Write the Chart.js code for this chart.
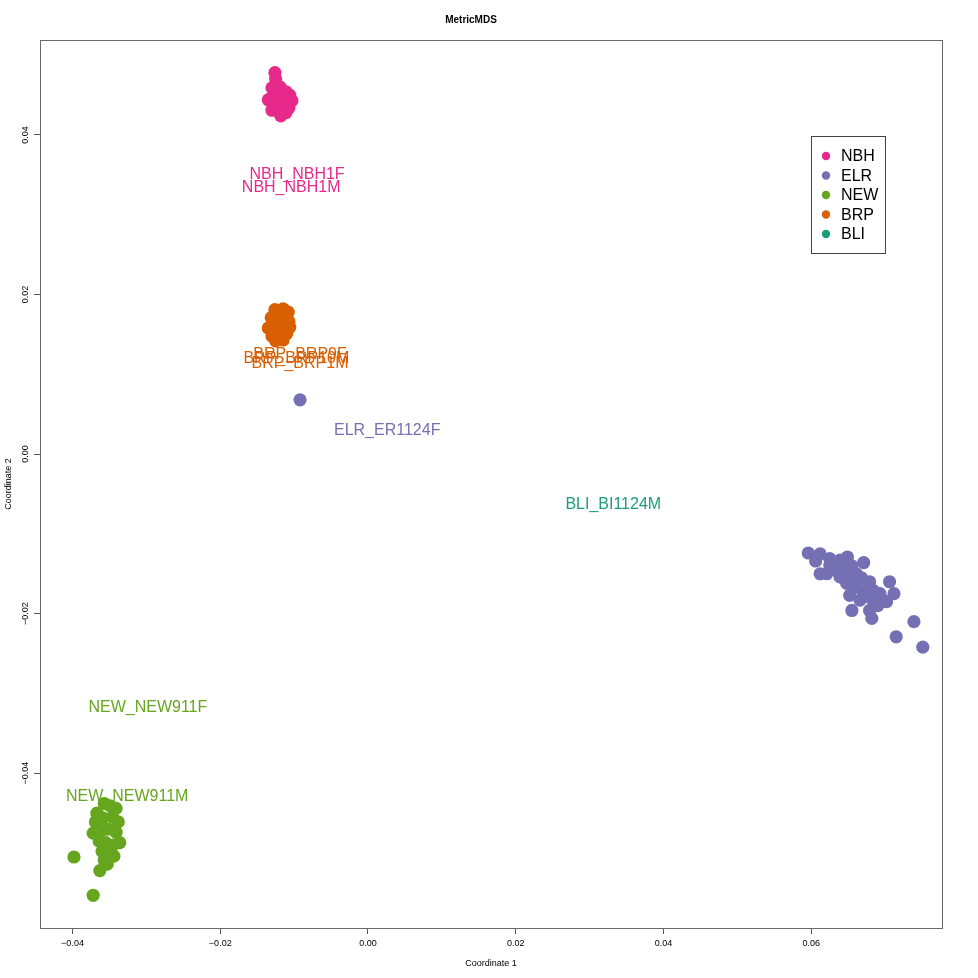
<!DOCTYPE html>
<html>
<head>
<meta charset="utf-8">
<script src="https://cdn.jsdelivr.net/npm/chart.js@4/dist/chart.umd.min.js"></script>
<style>
html,body{margin:0;padding:0;background:#fff;}
#wrap{width:978px;height:978px;}
</style>
</head>
<body>
<div id="wrap"><canvas id="c" width="978" height="978"></canvas></div>
<script>
// ---- data ----
const groups = ["NBH", "ELR", "NEW", "BRP", "BLI"];
const groupColors = ["#E7298A", "#7570B3", "#66A61E", "#D95F02", "#1B9E77"];

const nbhX = [-0.0126,-0.0125,-0.0130,-0.0119,-0.0111,-0.0106,-0.0133,-0.0122,-0.0114,-0.0103,-0.0126,-0.0115,-0.0107,-0.0130,-0.0120,-0.0111,-0.0118,-0.0126,-0.0135,-0.0108];
const nbhY = [0.0478,0.0470,0.0459,0.0460,0.0454,0.0450,0.0445,0.0449,0.0444,0.0443,0.0439,0.0436,0.0434,0.0431,0.0429,0.0428,0.0424,0.0435,0.0444,0.0446];

const elrX = [0.0596,0.0612,0.0606,0.0625,0.0639,0.0649,0.0671,0.0612,0.0625,0.0634,0.0643,0.0652,0.0661,0.0621,0.0648,0.0661,0.0679,0.0706,0.0712,0.0652,0.0666,0.0679,0.0693,0.0702,0.0655,0.0679,0.0682,0.0739,0.0715,0.0751,0.0670,0.0639,0.0684,0.0630,0.0685,0.0660,0.0645,0.0655,0.0668,0.0690,0.0673,-0.0092];
const elrY = [-0.0124,-0.0125,-0.0134,-0.0131,-0.0133,-0.0129,-0.0136,-0.0150,-0.0139,-0.0146,-0.0141,-0.0148,-0.0150,-0.0150,-0.0162,-0.0158,-0.0160,-0.0160,-0.0175,-0.0177,-0.0183,-0.0179,-0.0175,-0.0185,-0.0196,-0.0196,-0.0206,-0.0210,-0.0229,-0.0242,-0.0171,-0.0154,-0.0171,-0.0137,-0.0187,-0.0167,-0.0157,-0.0140,-0.0155,-0.0190,-0.0178,0.0068];

const newX = [-0.0367,-0.0357,-0.0349,-0.0341,-0.0369,-0.0359,-0.0346,-0.0338,-0.0372,-0.0361,-0.0352,-0.0341,-0.0364,-0.0355,-0.0345,-0.0336,-0.0360,-0.0349,-0.0357,-0.0344,-0.0363,-0.0353,-0.0398,-0.0372];
const newY = [-0.0450,-0.0438,-0.0441,-0.0444,-0.0461,-0.0456,-0.0455,-0.0461,-0.0475,-0.0472,-0.0470,-0.0474,-0.0485,-0.0487,-0.0490,-0.0487,-0.0498,-0.0500,-0.0509,-0.0504,-0.0522,-0.0514,-0.0505,-0.0553];

const brpX = [-0.0126,-0.0115,-0.0108,-0.0131,-0.0119,-0.0110,-0.0127,-0.0116,-0.0107,-0.0135,-0.0123,-0.0112,-0.0130,-0.0119,-0.0110,-0.0125,-0.0115,-0.0106,-0.0120,-0.0126];
const brpY = [0.0181,0.0182,0.0178,0.0171,0.0173,0.0171,0.0163,0.0164,0.0166,0.0158,0.0156,0.0157,0.0148,0.0147,0.0151,0.0142,0.0143,0.0159,0.0168,0.0153];

const bliX = [];
const bliY = [];

const labelTexts = ["NBH_NBH1F","NBH_NBH1M","BRP_BRP9F","BRP_BRP10M","BRP_BRP1M","ELR_ER1124F","BLI_BI1124M","NEW_NEW911F","NEW_NEW911M"];
const labelX = [-0.0096,-0.0104,-0.0092,-0.0097,-0.0092,0.0026,0.0332,-0.0298,-0.0326];
const labelY = [0.0350,0.0334,0.0125,0.0120,0.0114,0.0029,-0.0063,-0.0318,-0.0429];
const labelGroup = [0,0,3,3,3,1,4,2,2];

const xLimits = [-0.0444, 0.0777];
const yLimits = [-0.0594, 0.0519];
const tickStep = 0.02;

// ---- build ----
function pts(xs, ys){ return xs.map((v,i)=>({x:v, y:ys[i]})); }
const seriesX = [nbhX, elrX, newX, brpX, bliX];
const seriesY = [nbhY, elrY, newY, brpY, bliY];

const datasets = groups.map((g,i)=>({
  label: g,
  data: pts(seriesX[i], seriesY[i]),
  backgroundColor: groupColors[i],
  borderColor: groupColors[i],
  borderWidth: 0,
  pointRadius: 6.6,
  pointHoverRadius: 6.6
}));

const FONT = '"Liberation Sans", Arial, Helvetica, sans-serif';
function fmt(v){ const s = (Math.abs(v) < 1e-9 ? 0 : v).toFixed(2); return s.replace('-', '\u2212'); }

const deco = {
  id: 'deco',
  afterDatasetsDraw(chart){
    const ctx = chart.ctx, xs = chart.scales.x, ys = chart.scales.y, a = chart.chartArea;
    ctx.save();
    // point labels
    ctx.font = '16px ' + FONT;
    ctx.textAlign = 'center';
    ctx.textBaseline = 'middle';
    labelTexts.forEach((t,i)=>{
      ctx.fillStyle = groupColors[labelGroup[i]];
      ctx.fillText(t, xs.getPixelForValue(labelX[i]), ys.getPixelForValue(labelY[i]));
    });
    // plot box
    ctx.strokeStyle = '#6a6a6a';
    ctx.lineWidth = 1;
    ctx.strokeRect(Math.round(a.left)+0.5, Math.round(a.top)+0.5, Math.round(a.right-a.left), Math.round(a.bottom-a.top));
    // y tick labels (rotated, as in R)
    ctx.fillStyle = '#000';
    ctx.font = '9px ' + FONT;
    ys.ticks.forEach(t=>{
      const py = ys.getPixelForValue(t.value);
      ctx.save();
      ctx.translate(a.left - 14, py);
      ctx.rotate(-Math.PI/2);
      ctx.textAlign = 'center';
      ctx.textBaseline = 'middle';
      ctx.fillText(fmt(t.value), 0, 0);
      ctx.restore();
    });
    // legend
    const lx = a.left + 771, ly = a.top + 96, lw = 74, lh = 117;
    ctx.fillStyle = '#fff';
    ctx.fillRect(lx, ly, lw, lh);
    ctx.strokeStyle = '#444';
    ctx.strokeRect(lx+0.5, ly+0.5, lw, lh);
    ctx.font = '16px ' + FONT;
    ctx.textAlign = 'left';
    ctx.textBaseline = 'middle';
    groups.forEach((g,i)=>{
      const cy = ly + 20 + i*19.5;
      ctx.fillStyle = groupColors[i];
      ctx.beginPath();
      ctx.arc(lx + 15, cy, 4.2, 0, Math.PI*2);
      ctx.fill();
      ctx.fillStyle = '#000';
      ctx.fillText(g, lx + 30, cy + 1);
    });
    ctx.restore();
  }
};

new Chart(document.getElementById('c'), {
  type: 'scatter',
  data: { datasets },
  plugins: [deco],
  options: {
    responsive: false,
    animation: false,
    layout: { padding: { right: 36, left: 0, top: 0, bottom: 0 } },
    plugins: {
      legend: { display: false },
      tooltip: { enabled: false },
      title: {
        display: true,
        text: 'MetricMDS',
        color: '#000',
        font: { family: FONT, size: 10, weight: 'bold', lineHeight: 1.2 },
        padding: { top: 14, bottom: 14 }
      }
    },
    scales: {
      x: {
        type: 'linear',
        min: xLimits[0], max: xLimits[1],
        border: { display: false },
        grid: { drawOnChartArea: false, drawTicks: true, tickLength: 6, color: '#555' },
        ticks: { stepSize: tickStep, includeBounds: false, color: '#000', padding: 4,
                 font: { family: FONT, size: 9 }, maxRotation: 0, autoSkip: false,
                 callback: v => fmt(v) },
        title: { display: true, text: 'Coordinate 1', color: '#000',
                 font: { family: FONT, size: 9, lineHeight: 1.2 }, padding: { top: 0, bottom: 9 } },
        afterFit: s => { s.height = 50; }
      },
      y: {
        type: 'linear',
        min: yLimits[0], max: yLimits[1],
        border: { display: false },
        grid: { drawOnChartArea: false, drawTicks: true, tickLength: 6, color: '#555' },
        ticks: { stepSize: tickStep, includeBounds: false, display: false },
        title: { display: true, text: 'Coordinate 2', color: '#000',
                 font: { family: FONT, size: 9, lineHeight: 1.2 }, padding: { top: 3, bottom: 0 } },
        afterFit: s => { s.width = 40; }
      }
    }
  }
});
</script>
</body>
</html>
